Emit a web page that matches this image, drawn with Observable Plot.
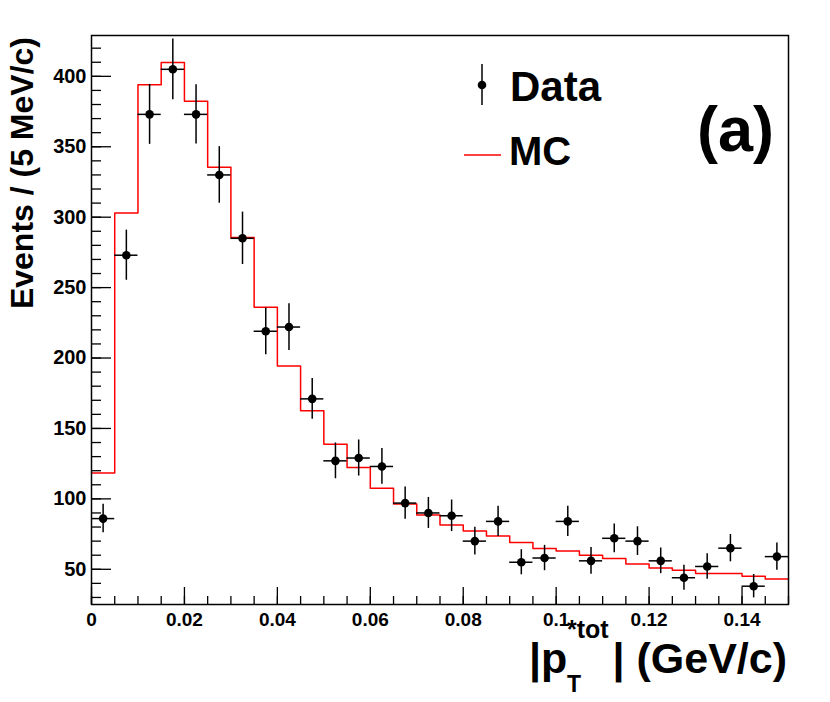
<!DOCTYPE html>
<html>
<head>
<meta charset="utf-8">
<script src="https://cdn.jsdelivr.net/npm/d3@7"></script>
<script src="https://cdn.jsdelivr.net/npm/@observablehq/plot@0.6"></script>
<style>
  html, body { margin: 0; padding: 0; background: white; }
  #chart svg { display: block; }
</style>
</head>
<body>
<div id="chart"></div>
<script>
// ---- data ----
const binWidth = 0.005;
const nBins = 30;
const dataValues = [86, 273, 373, 405, 373, 330, 285, 219, 222, 171, 127, 129, 123, 97, 90, 88, 70, 84, 55, 58, 84, 56, 72, 70, 56, 44, 52, 65, 38, 59];
const dataErrors = [10.1, 17.8, 21.3, 21.6, 21.1, 20.1, 18.6, 16.6, 16.6, 14.5, 12.7, 12.8, 12.7, 11.5, 11.0, 11.2, 9.9, 10.7, 8.9, 9.0, 10.7, 9.5, 10.2, 10.2, 9.1, 8.9, 9.1, 9.7, 8.3, 9.7];
const mcValues = [118.4, 302.9, 394.1, 409.8, 382.4, 335.4, 285.5, 236.0, 194.4, 162.6, 138.8, 122.2, 107.5, 96.4, 88.5, 81.4, 77.1, 73.6, 69.0, 64.8, 62.9, 60.0, 57.6, 53.8, 51.0, 49.4, 47.0, 47.0, 45.0, 43.1];
const xMajorTicks = [0, 0.02, 0.04, 0.06, 0.08, 0.1, 0.12, 0.14];
const xTickLabels = ["0", "0.02", "0.04", "0.06", "0.08", "0.1", "0.12", "0.14"];
const yMajorTicks = [50, 100, 150, 200, 250, 300, 350, 400];
const yTickLabels = ["50", "100", "150", "200", "250", "300", "350", "400"];
const xMinorTicks = d3.range(0, 0.1501, 0.005);
const yMinorTicks = d3.range(30, 421, 10);

// ---- derived tables ----
const points = dataValues.map((v, i) => ({
  lo: i * binWidth, hi: (i + 1) * binWidth, x: (i + 0.5) * binWidth,
  y: v, y1: v - dataErrors[i], y2: v + dataErrors[i]
}));
const mcSteps = d3.range(nBins + 1).map(i => ({x: i * binWidth, y: mcValues[Math.min(i, nBins - 1)]}));

const W = 830, H = 702;
const mL = 91, mR = 42, mT = 35, mB = 98;
const frameW = W - mL - mR, frameH = H - mT - mB;
const font = "'Liberation Sans', Arial, Helvetica, sans-serif";

const chart = Plot.plot({
  width: W, height: H,
  marginLeft: mL, marginRight: mR, marginTop: mT, marginBottom: mB,
  x: {domain: [0, 0.15]},
  y: {domain: [25, 429]},
  style: {fontFamily: font, fontWeight: "bold", background: "white", color: "black", fontSize: "19px"},
  marks: [
    Plot.ruleX(xMinorTicks, {x: d => d, insetTop: frameH - 8, stroke: "black", strokeWidth: 1.3}),
    Plot.ruleX(xMajorTicks, {x: d => d, insetTop: frameH - 17, stroke: "black", strokeWidth: 1.3}),
    Plot.ruleY(yMinorTicks, {y: d => d, insetRight: frameW - 10, stroke: "black", strokeWidth: 1.3}),
    Plot.ruleY(yMajorTicks, {y: d => d, insetRight: frameW - 20, stroke: "black", strokeWidth: 1.3}),
    Plot.axisX({ticks: xMajorTicks, tickSize: 0, tickPadding: 8, label: null,
      tickFormat: d => xTickLabels[xMajorTicks.indexOf(d)], fontSize: 19}),
    Plot.axisY({ticks: yMajorTicks, tickSize: 0, tickPadding: 5, label: null,
      tickFormat: d => yTickLabels[yMajorTicks.indexOf(d)], fontSize: 20}),
    Plot.line(mcSteps, {x: "x", y: "y", curve: "step-after", stroke: "#ff0000", strokeWidth: 1.5}),
    Plot.ruleY(points, {x1: "lo", x2: "hi", y: "y", stroke: "black", strokeWidth: 1.5}),
    Plot.ruleX(points, {x: "x", y1: "y1", y2: "y2", stroke: "black", strokeWidth: 1.5}),
    Plot.dot(points, {x: "x", y: "y", r: 4.3, fill: "black", stroke: "none"}),
    Plot.frame({stroke: "black", strokeWidth: 1.5})
  ]
});

const svg = d3.select(chart);
// Legend
const lg = svg.append("g").attr("font-family", font).attr("font-weight", "bold").attr("text-anchor", "start").attr("fill", "black");
lg.append("line").attr("x1", 482).attr("x2", 482).attr("y1", 64).attr("y2", 105).attr("stroke", "black").attr("stroke-width", 1.5);
lg.append("circle").attr("cx", 482).attr("cy", 85).attr("r", 4.3).attr("fill", "black");
lg.append("text").attr("x", 510).attr("y", 101).attr("font-size", 42).text("Data");
lg.append("line").attr("x1", 464).attr("x2", 501).attr("y1", 155).attr("y2", 155).attr("stroke", "#ff0000").attr("stroke-width", 1.5);
lg.append("text").attr("x", 509).attr("y", 165).attr("font-size", 40).text("MC");
lg.append("text").attr("x", 697).attr("y", 151).attr("font-size", 63).text("(a)");

// Axis titles
const at = svg.append("g").attr("font-family", font).attr("font-weight", "bold").attr("fill", "black").attr("text-anchor", "start");
at.append("text").attr("x", 529).attr("y", 673).attr("font-size", 43).text("|p");
at.append("text").attr("x", 567).attr("y", 692).attr("font-size", 23).text("T");
at.append("text").attr("x", 567).attr("y", 638).attr("font-size", 25).text("*tot");
at.append("text").attr("x", 787).attr("y", 673).attr("font-size", 43).attr("text-anchor", "end").text("| (GeV/c)");
at.append("text").attr("transform", "translate(33,37) rotate(-90)").attr("font-size", 32)
  .attr("text-anchor", "end").text("Events / (5 MeV/c)");

document.getElementById("chart").appendChild(chart);
</script>
</body>
</html>
